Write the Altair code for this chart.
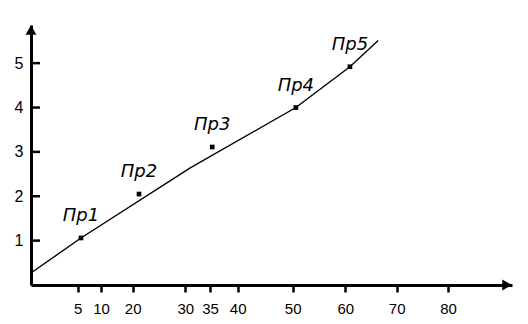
import altair as alt
import pandas as pd

# x axis: hand-drawn, uneven tick spacing
x_ticks = [5, 10, 20, 30, 35, 40, 50, 60, 70, 80]
y_ticks = [1, 2, 3, 4, 5]

# measured points
pt_labels = ["Пр1", "Пр2", "Пр3", "Пр4", "Пр5"]
pt_x = [5.7, 21.2, 35.4, 50.6, 60.9]
pt_y = [1.06, 2.05, 3.11, 4.0, 4.92]

# hand-drawn trend line (traced)
line_x = [0, 5.7, 31.0, 50.6, 60.9, 66.4]
line_y = [0.27, 1.06, 2.64, 4.0, 4.92, 5.51]

X_MAX = 92
Y_MAX = 5.86

# uneven, hand-drawn axis spacing (piecewise linear scale)
x_domain = [0] + x_ticks + [X_MAX]
x_range = [0, 46.7, 70, 101.7, 154.3, 179, 206.7, 261.7, 314.3, 365.7, 417, 481]

W, H = 481, 260

xs = alt.Scale(domain=x_domain, range=x_range, nice=False, zero=False)
ys = alt.Scale(domain=[0, Y_MAX], nice=False, zero=False)

pts = pd.DataFrame({"label": pt_labels, "x": pt_x, "y": pt_y})
ln = pd.DataFrame({"x": line_x, "y": line_y})
yt = pd.DataFrame({"y": y_ticks})

font = "Liberation Sans"

line = alt.Chart(ln).mark_line(color="black", strokeWidth=1.4).encode(
    x=alt.X("x:Q", scale=xs,
            axis=alt.Axis(values=x_ticks, title=None, grid=False,
                          domainColor="black", domainWidth=3,
                          tickColor="black", tickWidth=2.5, tickSize=7,
                          labelFont=font, labelFontSize=15, labelColor="black",
                          labelPadding=9, labelOverlap=False, labelFlush=False)),
    y=alt.Y("y:Q", scale=ys,
            axis=alt.Axis(values=y_ticks, title=None, grid=False,
                          domainColor="black", domainWidth=3, ticks=False,
                          labelFont=font, labelFontSize=16, labelColor="black",
                          labelPadding=8)),
)

dots = alt.Chart(pts).mark_point(shape="square", filled=True, color="black",
                                 size=22, opacity=1).encode(
    x=alt.X("x:Q", scale=xs), y=alt.Y("y:Q", scale=ys))

labels = alt.Chart(pts).mark_text(font="DejaVu Sans", fontStyle="italic",
                                  fontSize=18, color="black", dy=-22,
                                  baseline="middle").encode(
    x=alt.X("x:Q", scale=xs), y=alt.Y("y:Q", scale=ys), text="label:N")

yticks = alt.Chart(yt).mark_rule(color="black", strokeWidth=2.5).encode(
    y=alt.Y("y:Q", scale=ys), x=alt.value(0), x2=alt.value(9))

up_df = pd.DataFrame({"x": [0], "y": [Y_MAX]})
right_df = pd.DataFrame({"x": [X_MAX], "y": [0]})
arrow_up = alt.Chart(up_df).mark_point(
    shape="triangle-up", filled=True, color="black", size=120, opacity=1,
    yOffset=5).encode(x=alt.X("x:Q", scale=xs), y=alt.Y("y:Q", scale=ys))
arrow_right = alt.Chart(right_df).mark_point(
    shape="triangle-right", filled=True, color="black", size=120, opacity=1,
    xOffset=-5).encode(x=alt.X("x:Q", scale=xs), y=alt.Y("y:Q", scale=ys))

chart = alt.layer(line, yticks, dots, labels, arrow_up, arrow_right).properties(
    width=W, height=H,
    autosize=alt.AutoSizeParams(type="none"),
    padding={"left": 23, "top": 17, "right": 8, "bottom": 31},
    background="white",
).configure_view(stroke=None)

chart.save("out.html", embed_options={"renderer": "svg", "actions": False})
